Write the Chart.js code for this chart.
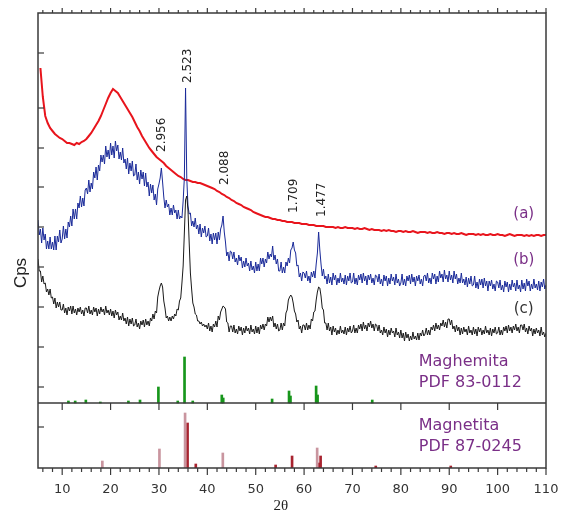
<!DOCTYPE html>
<html>
<head>
<meta charset="utf-8">
<script src="https://cdn.jsdelivr.net/npm/chart.js@4"></script>
<style>
  body { margin: 0; background: #fff; }
</style>
</head>
<body>
<canvas id="xrdChart" width="561" height="512"></canvas>
<script>
// scans start at 2theta = 5; (a) is read every 0.5 deg, (b) and (c) every 0.25 deg
const startAngle = 5;
const coarseStep = 0.5;
const fineStep = 0.25;

// (a) red
const curveA = [
  null, 400, 371, 352, 345, 340, 337, 334, 332, 330,
  329, 327, 325, 325, 324, 323, 325, 324, 326, 327,
  329, 332, 335, 339, 343, 347, 352, 358, 364, 370,
  375, 379, 377, 375, 371, 367, 363, 359, 355, 351,
  346, 341, 337, 332, 328, 324, 320, 317, 314, 311,
  309, 307, 305, 302, 300, 298, 296, 294, 292, 291,
  289, 288, 288, 287, 286, 286, 285, 285, 284, 283,
  282, 281, 280, 279, 277, 276, 274, 273, 271, 270,
  268, 267, 265, 264, 263, 261, 260, 259, 258, 256,
  255, 254, 253, 252, 251, 251, 250, 249, 249, 248,
  248, 247, 247, 246, 246, 246, 245, 245, 245, 244,
  244, 244, 243, 243, 243, 242, 242, 242, 242, 241,
  241, 241, 241, 240, 241, 240, 240, 241, 240, 240,
  240, 239, 240, 239, 239, 240, 239, 238, 239, 238,
  238, 238, 237, 238, 237, 238, 237, 237, 236, 237,
  237, 236, 237, 236, 236, 237, 236, 235, 236, 236,
  236, 235, 236, 235, 235, 236, 235, 235, 234, 235,
  235, 234, 235, 234, 234, 235, 234, 233, 234, 234,
  234, 233, 234, 233, 234, 233, 233, 234, 233, 233,
  234, 233, 233, 232, 233, 234, 233, 232, 233, 233,
  233, 232, 233, 232, 233, 232, 233, 233, 232, 233,
  233
];

// (b) blue
const curveB = [
  248, 233, 239, 225, 240, 228, 234, 219, 227, 219, 231, 219, 226, 218, 232, 218, 232, 226, 238, 225,
  229, 242, 229, 239, 230, 246, 241, 252, 242, 259, 249, 259, 249, 265, 260, 272, 261, 270, 262, 278,
  280, 274, 288, 276, 285, 279, 296, 290, 301, 288, 303, 297, 313, 306, 313, 304, 322, 311, 318, 309,
  325, 313, 322, 310, 327, 317, 323, 309, 316, 308, 320, 305, 309, 299, 310, 294, 305, 297, 307, 292,
  293, 304, 288, 296, 284, 298, 289, 296, 282, 295, 281, 286, 272, 284, 275, 283, 268, 274, 263, 279,
  284, 290, 300, 286, 271, 260, 268, 261, 264, 253, 260, 253, 263, 255, 258, 249, 258, 249, 252, 250,
  267, 290, 380, 290, 262, 254, 255, 242, 247, 241, 250, 239, 243, 234, 244, 231, 240, 235, 242, 231,
  232, 240, 227, 234, 224, 235, 228, 235, 224, 236, 228, 239, 243, 252, 236, 226, 212, 216, 207, 217,
  216, 209, 216, 206, 210, 203, 213, 207, 211, 200, 207, 201, 210, 202, 205, 197, 207, 198, 202, 195,
  206, 197, 204, 197, 210, 204, 210, 201, 209, 205, 216, 209, 214, 211, 222, 208, 213, 204, 209, 197,
  197, 206, 195, 201, 195, 206, 202, 210, 205, 218, 220, 226, 218, 215, 202, 203, 191, 195, 187, 196,
  195, 190, 197, 187, 192, 185, 196, 191, 197, 190, 204, 215, 236, 218, 204, 192, 199, 189, 192, 184,
  194, 185, 191, 183, 195, 188, 193, 183, 190, 185, 195, 186, 190, 184, 193, 183, 192, 187, 195, 185,
  186, 195, 184, 190, 183, 193, 188, 194, 185, 195, 187, 192, 183, 193, 188, 194, 185, 190, 183, 193,
  192, 186, 194, 184, 189, 182, 193, 187, 192, 182, 190, 184, 194, 187, 191, 183, 194, 185, 189, 182,
  185, 194, 183, 189, 182, 192, 187, 193, 184, 194, 186, 191, 182, 192, 187, 193, 184, 189, 182, 192,
  193, 187, 195, 185, 190, 184, 195, 189, 194, 184, 192, 186, 197, 190, 194, 186, 198, 189, 193, 186,
  197, 188, 193, 185, 197, 189, 194, 184, 190, 185, 195, 185, 189, 183, 191, 181, 190, 184, 192, 182,
  183, 192, 180, 186, 179, 189, 183, 189, 180, 190, 182, 187, 177, 187, 182, 188, 179, 184, 177, 187,
  186, 180, 188, 178, 183, 176, 187, 181, 186, 176, 184, 178, 188, 181, 185, 177, 188, 179, 183, 176,
  188, 179, 185, 177, 189, 182, 187, 177, 184, 179, 189, 180, 184, 178, 187, 177, 186, 181, 189, 179,
  183
];

// (c) black
const curveC = [
  209, 197, 197, 186, 192, 184, 185, 176, 179, 173, 179, 170, 171, 164, 170, 160, 166, 161, 166, 158,
  158, 164, 155, 160, 153, 161, 157, 162, 154, 162, 155, 159, 153, 160, 156, 161, 154, 158, 152, 160,
  160, 155, 162, 154, 158, 153, 161, 156, 160, 152, 159, 154, 161, 156, 159, 153, 162, 155, 158, 153,
  159, 152, 157, 150, 158, 153, 156, 148, 152, 148, 155, 147, 150, 144, 151, 142, 149, 144, 150, 142,
  143, 149, 141, 145, 139, 147, 143, 148, 141, 149, 143, 147, 142, 150, 147, 154, 149, 157, 155, 171,
  177, 182, 185, 181, 167, 160, 150, 152, 147, 151, 147, 152, 149, 154, 152, 159, 158, 167, 170, 185,
  202, 235, 268, 272, 258, 225, 195, 179, 165, 161, 154, 153, 147, 147, 144, 146, 142, 144, 141, 143,
  139, 145, 137, 142, 136, 144, 141, 147, 141, 152, 148, 156, 159, 162, 161, 159, 146, 145, 136, 142,
  142, 136, 143, 135, 139, 134, 142, 137, 141, 133, 140, 135, 142, 137, 140, 134, 143, 136, 139, 134,
  142, 135, 141, 134, 143, 139, 144, 138, 144, 142, 151, 146, 151, 147, 152, 141, 145, 139, 144, 137,
  138, 145, 138, 145, 142, 155, 158, 168, 171, 173, 171, 165, 157, 154, 146, 148, 139, 142, 135, 143,
  143, 138, 145, 138, 143, 139, 149, 147, 156, 157, 168, 176, 181, 180, 172, 160, 158, 145, 145, 138,
  145, 137, 141, 133, 142, 136, 140, 133, 138, 134, 142, 135, 138, 134, 141, 133, 140, 136, 142, 135,
  137, 143, 135, 140, 135, 143, 139, 144, 137, 146, 139, 143, 137, 145, 141, 147, 140, 144, 137, 144,
  143, 137, 143, 135, 138, 133, 141, 135, 139, 131, 138, 133, 140, 135, 137, 131, 140, 133, 136, 130,
  138, 130, 135, 127, 136, 130, 134, 127, 132, 128, 136, 129, 132, 128, 135, 128, 135, 132, 138, 132,
  134, 140, 133, 138, 133, 141, 138, 143, 137, 145, 139, 143, 138, 145, 142, 148, 141, 146, 140, 149,
  149, 143, 148, 139, 142, 136, 143, 137, 141, 133, 140, 134, 141, 136, 139, 133, 142, 135, 138, 133,
  141, 134, 139, 132, 141, 136, 140, 133, 138, 134, 142, 135, 138, 133, 140, 132, 139, 135, 141, 134,
  135, 141, 133, 138, 133, 141, 137, 142, 135, 143, 137, 141, 135, 142, 138, 144, 137, 141, 135, 143,
  143, 138, 144, 136, 140, 134, 142, 137, 140, 132, 139, 134, 140, 135, 138, 132, 141, 133, 136, 131,
  135
];

// reference patterns (stick positions in 2theta, relative intensities)
const maghPos = [11.7, 13.1, 15.3, 18.3, 24.1, 26.5, 30.3, 34.3, 35.7, 37.4, 43.4, 43.7, 53.8, 57.3, 57.6, 62.9, 63.2, 74.5];
const maghInt = [2, 2, 3, 1, 2, 3, 16, 2, 46, 2, 8, 5, 4, 12, 7, 17, 8, 3];
const magnPalePos = [18.3, 30.1, 35.4, 43.2, 62.7];
const magnPaleInt = [7, 19, 55, 15, 20];
const magnDarkPos = [35.5, 37.2, 53.7, 57.1, 62.6, 63.0, 74.4, 89.9];
const magnDarkInt = [45, 4, 3, 12, 5, 12, 2, 2];

const xTicks = [10, 20, 30, 40, 50, 60, 70, 80, 90, 100, 110];
const cpsTicks = [41, 81, 121, 161, 201, 241, 281, 320, 360, 415];
const sepLevel = 65;

const peakLabels = ['2.956', '2.523', '2.088', '1.709', '1.477'];
const curveNames = ['(a)', '(b)', '(c)'];
const refNames = [['Maghemita', 'PDF 83-0112'], ['Magnetita', 'PDF 87-0245']];

function scan(values, step) {
  return values.map((v, i) => ({ x: startAngle + i * step, y: v }));
}
function sticks(pos, ints, base) {
  return pos.map((p, i) => ({ x: p, y: [base, base + ints[i]] }));
}

const purple = '#7a2f87';

const framePlugin = {
  id: 'framePlugin',
  beforeDraw(chart) {
    const ctx = chart.ctx;
    ctx.save();
    ctx.fillStyle = '#fff';
    ctx.fillRect(0, 0, chart.width, chart.height);
    ctx.restore();
  },
  afterDatasetsDraw(chart) {
    const { ctx, chartArea: a, scales: { x, y } } = chart;
    const line = (x1, y1, x2, y2) => { ctx.beginPath(); ctx.moveTo(x1, y1); ctx.lineTo(x2, y2); ctx.stroke(); };
    ctx.save();
    ctx.strokeStyle = '#3a3a3a';
    ctx.lineWidth = 1.5;
    ctx.strokeRect(a.left, a.top, a.right - a.left, a.bottom - a.top);
    const ySep = y.getPixelForValue(sepLevel);
    line(a.left, ySep, a.right, ySep);

    ctx.lineWidth = 1.2;
    for (let v = 6; v <= 110; v += 2) {
      const px = x.getPixelForValue(v);
      const major = v % 10 === 0;
      line(px, a.top, px, a.top - (major ? 5 : 3));
      line(px, a.bottom, px, a.bottom + (major ? 7 : 4));
      if (major && v < 110) line(px, ySep, px, ySep + 7);
    }
    cpsTicks.forEach(v => {
      const py = y.getPixelForValue(v);
      line(a.left, py, a.left + 6, py);
    });

    // peak d-spacing labels
    const peakAt = [30.7, 36.0, 43.7, 57.8, 63.6];
    const peakBase = [316, 385, 283, 255, 251];
    ctx.fillStyle = '#222';
    ctx.font = '12px "DejaVu Sans"';
    ctx.textAlign = 'left';
    ctx.textBaseline = 'middle';
    peakLabels.forEach((t, i) => {
      ctx.save();
      ctx.translate(x.getPixelForValue(peakAt[i]), y.getPixelForValue(peakBase[i]));
      ctx.rotate(-Math.PI / 2);
      ctx.fillText(t, 0, 0);
      ctx.restore();
    });

    // curve names
    const nameY = [254, 208, 159];
    ctx.font = '15px "DejaVu Sans"';
    ctx.textAlign = 'center';
    curveNames.forEach((t, i) => {
      ctx.fillStyle = i < 2 ? purple : '#333';
      ctx.fillText(t, x.getPixelForValue(105.4), y.getPixelForValue(nameY[i]));
    });

    // reference names
    const refY = [[106, 85], [42, 21]];
    ctx.font = '16px "DejaVu Sans"';
    ctx.textAlign = 'left';
    ctx.fillStyle = purple;
    refNames.forEach((pair, i) => {
      pair.forEach((t, j) => ctx.fillText(t, x.getPixelForValue(83.7), y.getPixelForValue(refY[i][j])));
    });

    // axis titles
    ctx.fillStyle = '#222';
    ctx.font = '17px "Liberation Sans"';
    ctx.textAlign = 'center';
    ctx.save();
    ctx.translate(a.left - 17, y.getPixelForValue(195));
    ctx.rotate(-Math.PI / 2);
    ctx.fillText('Cps', 0, 0);
    ctx.restore();
    ctx.font = '15px "Liberation Serif"';
    ctx.fillText('2θ', a.left + (a.right - a.left) * 0.478, a.bottom + 38);
    ctx.restore();
  }
};

new Chart(document.getElementById('xrdChart'), {
  type: 'line',
  data: {
    datasets: [
      { data: sticks(maghPos, maghInt, sepLevel), type: 'bar', backgroundColor: '#17961b', barThickness: 2, borderWidth: 0 },
      { data: sticks(magnPalePos, magnPaleInt, 0), type: 'bar', backgroundColor: '#c9959f', barThickness: 2, borderWidth: 0 },
      { data: sticks(magnDarkPos, magnDarkInt, 0), type: 'bar', backgroundColor: '#a8232f', barThickness: 2, borderWidth: 0 },
      { data: scan(curveC, fineStep), borderColor: '#1a1a1a', borderWidth: 1, pointRadius: 0, tension: 0 },
      { data: scan(curveB, fineStep), borderColor: '#1a2a99', borderWidth: 1, pointRadius: 0, tension: 0 },
      { data: scan(curveA, coarseStep), borderColor: '#e8141c', borderWidth: 2, pointRadius: 0, tension: 0 }
    ]
  },
  options: {
    responsive: false,
    animation: false,
    layout: { padding: { left: 38, right: 15, top: 13, bottom: 0 } },
    plugins: { legend: { display: false }, tooltip: { enabled: false } },
    scales: {
      x: {
        type: 'linear', min: 5, max: 110, offset: false,
        afterBuildTicks: s => { s.ticks = xTicks.map(v => ({ value: v })); },
        afterFit: s => { s.height = 44; s.paddingLeft = 0; s.paddingRight = 0; },
        grid: { display: false, drawTicks: false },
        border: { display: false },
        ticks: { font: { family: 'DejaVu Sans', size: 13 }, color: '#333', padding: 14, maxRotation: 0, autoSkip: false }
      },
      y: { min: 0, max: 455, display: false }
    }
  },
  plugins: [framePlugin]
});
</script>
</body>
</html>
